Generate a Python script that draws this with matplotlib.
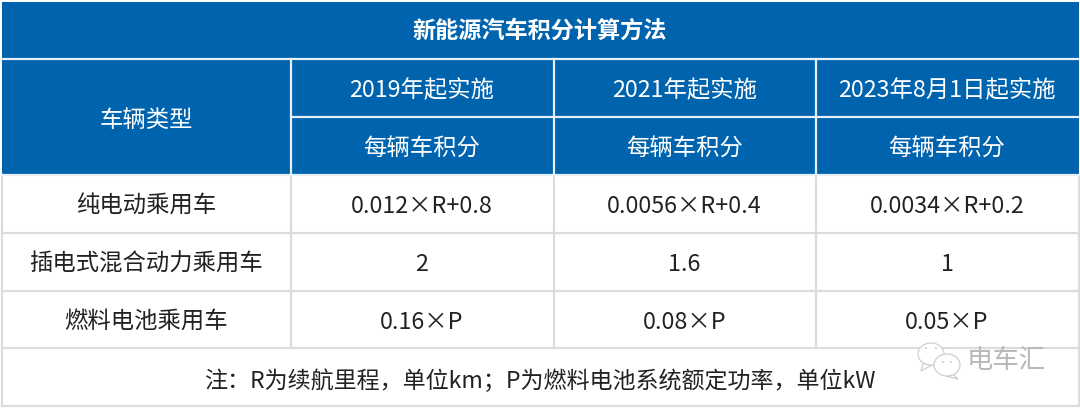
import matplotlib
matplotlib.use('agg')
import matplotlib.pyplot as plt
from matplotlib.patches import Rectangle, Ellipse, Polygon

plt.rcParams['font.family'] = ['Noto Sans CJK SC', 'DejaVu Sans']

title = '新能源汽车积分计算方法'
type_header = '车辆类型'
periods = ['2019年起实施', '2021年起实施', '2023年8月1日起实施']
sub_header = '每辆车积分'
vehicle_types = ['纯电动乘用车', '插电式混合动力乘用车', '燃料电池乘用车']
credits_2019 = ['0.012×R+0.8', '2', '0.16×P']
credits_2021 = ['0.0056×R+0.4', '1.6', '0.08×P']
credits_2023 = ['0.0034×R+0.2', '1', '0.05×P']
note = '注：R为续航里程，单位km；P为燃料电池系统额定功率，单位kW'
watermark = '电车汇'

# grid edges in pixels
col_x = [1.5, 290.5, 553.5, 815.5, 1078.5]
row_y = [1.5, 58.5, 116.5, 174.5, 232.5, 290.5, 348, 405.5]
blue = '#0063AE'
grey = '#DCDCDC'
text_col = '#222222'
fs = 16.8

fig = plt.figure(figsize=(10.8, 4.08), dpi=100)
ax = fig.add_axes([0, 0, 1, 1])
ax.set_xlim(0, 1080)
ax.set_ylim(408, 0)
ax.axis('off')

# header block
ax.add_patch(Rectangle((col_x[0], row_y[0]), col_x[-1] - col_x[0], row_y[3] + 0.5 - row_y[0],
                       fc=blue, ec='none', zorder=1))

# body grid
ax.plot([col_x[0], col_x[0]], [row_y[3], row_y[-1]], color=grey, lw=1.6, zorder=2)
ax.plot([col_x[-1], col_x[-1]], [row_y[3], row_y[-1]], color=grey, lw=1.6, zorder=2)
for y in row_y[4:]:
    ax.plot([col_x[0], col_x[-1]], [y, y], color=grey, lw=1.6, zorder=2)
for x in col_x[1:-1]:
    ax.plot([x, x], [row_y[3], row_y[6]], color=grey, lw=1.6, zorder=2)

# header grid
for y in row_y[1:4]:
    x0 = col_x[0] if y != row_y[2] else col_x[1]
    ax.plot([x0, col_x[-1]], [y, y], color='#E8F0F7', lw=1.6, zorder=3)
for x in col_x[1:-1]:
    ax.plot([x, x], [row_y[1], row_y[3]], color='#E8F0F7', lw=1.6, zorder=3)


def put(x, y, s, color=text_col, size=fs, **kw):
    ax.text(x, y, s, color=color, fontsize=size, ha='center', va='center', zorder=4, **kw)


def mid(v, i):
    return (v[i] + v[i + 1]) / 2


put(540, 31.5, title, color='white', size=16.7, weight='bold')
put(mid(col_x, 0), 120, type_header, color='white')
for i, p in enumerate(periods):
    put(mid(col_x, i + 1), 91, p, color='white')
    put(mid(col_x, i + 1), 149, sub_header, color='white')

for r, name in enumerate(vehicle_types):
    put(mid(col_x, 0), mid(row_y, r + 3) + 3, name)
    put(mid(col_x, 1), mid(row_y, r + 3) + 3, credits_2019[r])
    put(mid(col_x, 2), mid(row_y, r + 3) + 3, credits_2021[r])
    put(mid(col_x, 3), mid(row_y, r + 3) + 3, credits_2023[r])

put(541, 381, note, size=16.6)

# watermark
for (cx, cy, w, h), tail in zip([(931, 354, 26, 22), (947, 365, 26, 22)],
                                [[(924, 362), (921, 371), (932, 365)],
                                 [(953, 374), (958, 379), (946, 376)]]):
    ax.add_patch(Polygon(tail, fc='white', ec='#CFCFCF', lw=0.9, zorder=5))
    ax.add_patch(Ellipse((cx, cy), w, h, fc='white', ec='#CFCFCF', lw=0.9, zorder=5))
for x, y in [(926, 348), (936, 348), (943, 362), (951, 362)]:
    ax.add_patch(Ellipse((x, y), 2.4, 1.6, fc='#C4C4C4', ec='none', zorder=6))
put(1006, 361, watermark, color='#B8B8B8', size=19)

plt.savefig('out.png', dpi=100, facecolor='white')
